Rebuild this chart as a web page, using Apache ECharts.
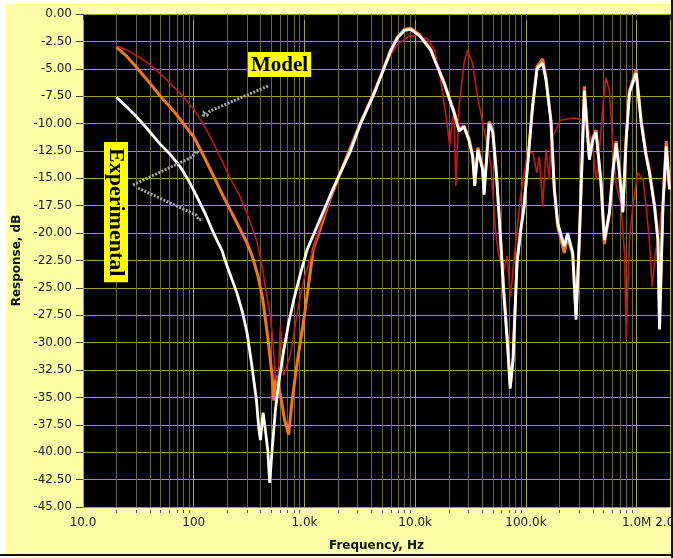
<!DOCTYPE html>
<html><head><meta charset="utf-8">
<script src="https://cdn.jsdelivr.net/npm/echarts@6/dist/echarts.min.js"></script>
<style>html,body{margin:0;padding:0;background:#fff}#c{width:673px;height:558px}</style>
</head><body><div id="c"></div>
<script>
// ---- tick labels / grid values ----
const xTickValues = [10, 100, 1000, 10000, 100000, 1000000, 2000000];
const xTickLabels = ['10.0', '100', '1.0k', '10.0k', '100.0k', '1.0M', '2.0M'];
const minorFreqs = [20,30,40,50,60,70,80,90,200,300,400,500,600,700,800,900,
  2000,3000,4000,5000,6000,7000,8000,9000,20000,30000,40000,50000,60000,70000,80000,90000,
  200000,300000,400000,500000,600000,700000,800000,900000];

// ---- series: [frequency Hz, response dB] ----
const expWhite = [[20,-7.6],[25,-8.5],[30,-9.3],[36,-10.2],[42,-11.0],[50,-11.9],[60,-12.7],[75,-13.9],[90,-15.2],[107,-16.7],[128,-18.3],[151,-20.0],[180,-21.6],[200,-23.0],[246,-25.5],[275,-27.2],[303,-29.1],[336,-32.2],[368,-35.2],[386,-37.7],[400,-38.9],[423,-36.4],[444,-38.0],[466,-39.8],[485,-42.8],[510,-39.8],[547,-36.1],[585,-33.7],[650,-30.7],[720,-28.2],[800,-26.1],[920,-23.7],[1058,-21.5],[1400,-18.6],[1841,-15.8],[2607,-12.5],[3213,-10.0],[4240,-7.3],[5220,-5.0],[6000,-3.4],[6900,-2.2],[8000,-1.5],[9100,-1.4],[11000,-2.0],[13800,-3.3],[18200,-6.3],[22400,-9.0],[24900,-10.7],[27600,-10.3],[30500,-11.5],[33000,-13.0],[34500,-15.7],[36800,-12.4],[40600,-14.2],[41900,-16.5],[46500,-10.0],[50200,-10.8],[54000,-14.5],[58300,-19.7],[63100,-25.5],[68500,-30.5],[72100,-34.2],[76600,-31.5],[83100,-22.7],[89200,-20.0],[96500,-17.5],[103600,-13.8],[114600,-8.6],[126000,-5.0],[141600,-4.5],[151700,-6.0],[168400,-9.9],[180300,-16.0],[193600,-19.1],[222000,-21.2],[238000,-20.0],[264600,-21.8],[283500,-27.9],[303700,-20.6],[326000,-11.5],[337000,-7.0],[374000,-13.3],[401500,-11.5],[430000,-10.8],[477000,-15.4],[511000,-20.6],[567000,-18.1],[609000,-14.5],[652000,-11.8],[699000,-14.5],[750000,-18.1],[804000,-11.5],[861000,-7.2],[990000,-5.4],[1098000,-9.9],[1219000,-13.0],[1306000,-14.5],[1449000,-17.6],[1556000,-20.6],[1608000,-28.8],[1726000,-17.6],[1849000,-12.1],[1980000,-16.0]];

const expOrange = [[20,-3.0],[25,-3.9],[30,-4.8],[40,-6.3],[50,-7.5],[60,-8.4],[70,-9.2],[85,-10.3],[100,-11.2],[125,-13.1],[151,-14.8],[180,-16.4],[214,-17.9],[255,-19.4],[303,-20.9],[340,-22.2],[380,-23.9],[420,-26.0],[466,-29.5],[510,-33.0],[528,-35.3],[555,-33.0],[600,-34.5],[660,-37.0],[720,-38.4],[775,-35.2],[860,-31.8],[1000,-27.5],[1200,-21.5],[1650,-17.3],[2200,-14.0],[3213,-9.9],[4240,-7.2],[5220,-4.9],[6000,-3.3],[6900,-2.1],[8000,-1.4],[9100,-1.3],[11000,-1.9],[13800,-3.2],[18200,-6.2],[22400,-8.9],[24900,-10.5],[27600,-10.2],[30500,-11.3],[33000,-12.8],[34500,-15.5],[36800,-12.2],[40600,-14.0],[41900,-16.3],[46500,-9.8],[50200,-10.6],[54000,-14.3],[58300,-19.5],[63100,-25.2],[68500,-30.2],[72100,-34.0],[76600,-31.3],[83100,-22.5],[89200,-19.8],[96500,-17.3],[103600,-13.6],[114600,-8.4],[126000,-4.8],[141600,-4.1],[151700,-5.8],[168400,-9.7],[180300,-15.8],[193600,-19.4],[222000,-21.8],[238000,-20.3],[264600,-22.0],[283500,-27.5],[303700,-20.4],[326000,-11.3],[337000,-6.6],[374000,-13.1],[401500,-11.3],[430000,-10.6],[477000,-15.6],[511000,-21.0],[567000,-18.3],[609000,-14.3],[652000,-11.6],[699000,-14.3],[750000,-17.9],[804000,-11.3],[861000,-7.0],[990000,-5.1],[1098000,-9.7],[1219000,-12.8],[1306000,-14.3],[1449000,-17.4],[1556000,-20.4],[1608000,-28.5],[1726000,-17.4],[1849000,-11.6],[1980000,-15.8]];

const modelData = [[20,-2.9],[25,-3.3],[31.7,-3.9],[40,-4.6],[53,-5.7],[75,-7.2],[100,-8.7],[123,-10.1],[151,-11.8],[180,-13.4],[214,-15.0],[260,-16.6],[303,-18.2],[340,-19.6],[373,-20.8],[414,-23.0],[450,-25.3],[492,-27.6],[520,-30.0],[547,-33.1],[575,-33.8],[607,-28.5],[650,-33.0],[750,-31.0],[870,-27.0],[1000,-24.0],[1200,-21.5],[1400,-19.2],[1840,-16.0],[2600,-12.6],[3200,-10.2],[4240,-7.4],[4870,-5.6],[5800,-4.0],[6900,-2.8],[8800,-2.0],[10800,-1.95],[12900,-2.3],[15000,-3.3],[17000,-6.0],[19400,-10.0],[20500,-12.1],[21700,-9.5],[22400,-9.0],[23300,-15.7],[24900,-8.4],[27600,-4.5],[29600,-3.3],[32900,-4.5],[36500,-7.5],[41900,-10.6],[48000,-13.6],[53100,-19.7],[56900,-22.1],[63100,-23.4],[67600,-22.1],[72500,-25.8],[77600,-22.7],[83100,-19.7],[89200,-16.7],[103600,-12.6],[116000,-12.7],[125000,-14.5],[132000,-13.0],[141600,-17.6],[151700,-12.4],[162500,-15.1],[168400,-11.5],[205000,-9.7],[273000,-9.5],[326000,-9.7],[361000,-10.3],[401000,-12.1],[430000,-15.1],[460000,-12.5],[500000,-8.0],[529000,-5.8],[567000,-7.0],[609000,-12.1],[652000,-15.5],[724000,-17.5],[776000,-21.8],[804000,-29.7],[861000,-20.6],[922000,-17.6],[1020000,-14.5],[1140000,-15.1],[1220000,-17.6],[1310000,-21.0],[1380000,-24.9],[1480000,-21.8],[1580000,-20.2],[1700000,-17.5],[1890000,-14.2],[2000000,-13.5]];

function xLabel(v) {
  let best = 0, bd = Infinity;
  for (let i = 0; i < xTickValues.length; i++) {
    const d = Math.abs(Math.log10(v) - Math.log10(xTickValues[i]));
    if (d < bd) { bd = d; best = i; }
  }
  return bd < 0.01 ? xTickLabels[best] : '';
}

const chart = echarts.init(document.getElementById('c'), null, {renderer: 'canvas'});
const FONT = '"DejaVu Sans", Verdana, sans-serif';
const option = {
  backgroundColor: '#ffffff',
  animation: false,
  graphic: [
    {type: 'rect', shape: {x: 6, y: 4, width: 665, height: 550}, style: {fill: '#fdfda8'}, z: -10, silent: true},
    {type: 'rect', shape: {x: 0, y: 554, width: 673, height: 2}, style: {fill: '#111'}, z: -10, silent: true},
    {type: 'rect', shape: {x: 671, y: 0, width: 2, height: 558}, style: {fill: '#111'}, z: -10, silent: true},
    {type: 'polyline', shape: {points: [[268,86],[210,111],[207,115],[204,113],[203,117]]}, style: {stroke: '#a8a8a8', lineWidth: 3, lineDash: [2, 1.5], fill: null}, z: 100},
    {type: 'polyline', shape: {points: [[133,185],[192,157],[196,151],[199,153]]}, style: {stroke: '#a8a8a8', lineWidth: 3, lineDash: [2, 1.5], fill: null}, z: 100},
    {type: 'polyline', shape: {points: [[138,188],[196,215],[199,220],[203,219]]}, style: {stroke: '#a8a8a8', lineWidth: 3, lineDash: [2, 1.5], fill: null}, z: 100},
    {type: 'text', x: 248, y: 52, z: 101, style: {text: 'Model', font: 'bold 21px "Liberation Serif", serif', fill: '#000', backgroundColor: '#ffff00', padding: [3, 3, 1, 3]}},
    {type: 'text', x: 116, y: 142, rotation: -Math.PI / 2, z: 101, style: {text: 'Experimental', font: 'bold 22px "Liberation Serif", serif', fill: '#000', backgroundColor: '#ffff00', padding: [1, 6, 1, 6], align: 'left', verticalAlign: 'middle'}}
  ],
  grid: {left: 83, top: 14, right: 3, bottom: 51, show: true, backgroundColor: '#000000', borderWidth: 0, outerBoundsMode: 'none', containLabel: false},
  xAxis: {
    type: 'log', logBase: 10, min: 10, max: 2000000,
    name: 'Frequency, Hz', nameLocation: 'middle', nameGap: 33,
    nameTextStyle: {fontFamily: FONT, fontWeight: 'bold', fontSize: 12, color: '#111'},
    axisLine: {show: false},
    axisTick: {show: true, length: 6, lineStyle: {color: '#444'}},
    axisLabel: {formatter: xLabel, fontFamily: FONT, fontSize: 12, color: '#222', margin: 10, showMaxLabel: true, hideOverlap: false},
    splitLine: {show: true, lineStyle: {color: '#a9a93a', width: 1}}
  },
  yAxis: {
    type: 'value', min: -45, max: 0, interval: 2.5,
    name: 'Response, dB', nameLocation: 'middle', nameGap: 56,
    nameTextStyle: {fontFamily: FONT, fontWeight: 'bold', fontSize: 12, color: '#111'},
    axisLine: {show: false},
    axisTick: {show: true, length: 7, lineStyle: {color: '#444'}},
    axisLabel: {formatter: v => v.toFixed(2), fontFamily: FONT, fontSize: 12, color: '#222', margin: 11},
    splitLine: {show: true, lineStyle: {color: '#9f9f34', width: 1}}
  },
  series: [
    {
      type: 'custom', z: 1, clip: false, silent: true,
      data: minorFreqs.map(f => [f, -45]),
      encode: {x: 0, y: 1},
      renderItem: function (params, api) {
        const x = Math.round(api.coord([api.value(0), -45])[0]) + 0.5;
        const top = params.coordSys.y, bot = params.coordSys.y + params.coordSys.height;
        return {type: 'group', children: [
          {type: 'line', shape: {x1: x, y1: top, x2: x, y2: bot}, style: {stroke: '#6b6b22', lineWidth: 1}},
          {type: 'line', shape: {x1: x, y1: bot + 3, x2: x, y2: bot + 6}, style: {stroke: '#555', lineWidth: 1}}
        ]};
      }
    },
    {name: 'Experimental 2', type: 'line', data: expOrange, showSymbol: false, z: 3,
      lineStyle: {color: '#f07818', width: 3}},
    {name: 'Model', type: 'line', data: modelData, showSymbol: false, z: 4,
      lineStyle: {color: '#c41818', width: 1.6}},
    {name: 'Experimental 1', type: 'line', data: expWhite, showSymbol: false, z: 5,
      lineStyle: {color: '#ffffff', width: 2.8}}
  ]
};
chart.setOption(option);
</script></body></html>
